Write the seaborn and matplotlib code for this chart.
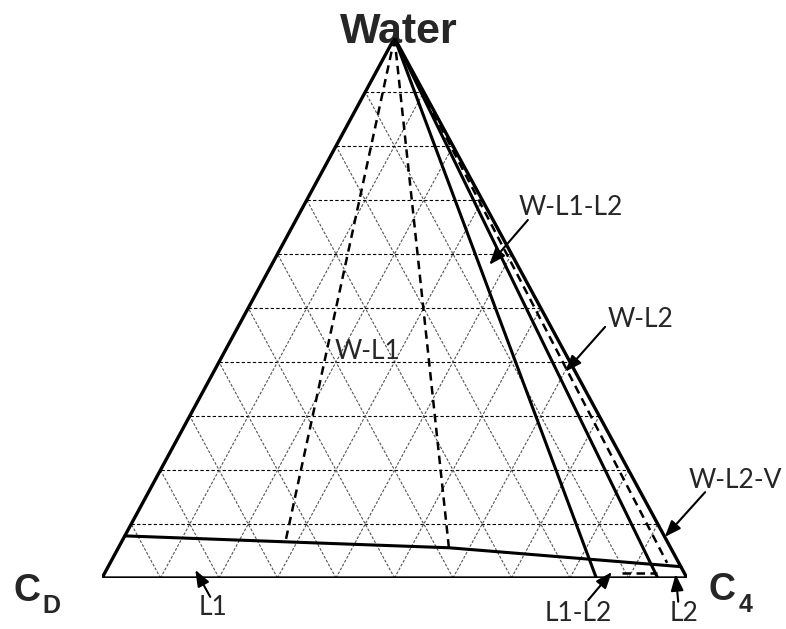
import matplotlib
matplotlib.use("Agg")
import matplotlib.pyplot as plt
import numpy as np
import pandas as pd
import seaborn as sns

sns.set_style("white")
plt.rcParams["font.family"] = ["Lato", "DejaVu Sans"]

# Phase boundaries of the Water / CD / C4 system.
# Each boundary is listed as C4 mass fraction and water mass fraction; CD is the remainder.
wl1_left_c4 = [0.0, 0.280]
wl1_left_w = [1.0, 0.067]
wl1_right_c4 = [0.0, 0.565]
wl1_right_w = [1.0, 0.056]
l1_edge_c4 = [0.0, 0.280, 0.565, 0.979]
l1_edge_w = [0.078, 0.067, 0.056, 0.021]
wl1l2_edge_c4 = [0.0, 0.845]
wl1l2_edge_w = [1.0, 0.0]
wl2_edge_c4 = [0.0, 0.950]
wl2_edge_w = [1.0, 0.0]
wl2v_edge_c4 = [0.0, 0.952]
wl2v_edge_w = [1.0, 0.028]
l1l2_tie_c4 = [0.884, 0.944]
l1l2_tie_w = [0.009, 0.009]

grid_levels = [0.1, 0.2, 0.3, 0.4, 0.5, 0.6, 0.7, 0.8, 0.9]

region_names = ["W-L1-L2", "W-L2", "W-L2-V", "L1", "L1-L2", "L2"]
region_c4 = [0.372, 0.601, 0.924, 0.152, 0.866, 0.977]
region_w = [0.580, 0.382, 0.076, 0.015, 0.011, 0.007]


def to_xy(c4, w):
    c4 = np.asarray(c4, dtype=float)
    w = np.asarray(w, dtype=float)
    return c4 + w / 2.0, w


fig = plt.figure(figsize=(7.86, 6.29), dpi=100)
ax = fig.add_axes([102 / 786, 51 / 629, 585 / 786, 540 / 629])
ax.set_xlim(0, 1)
ax.set_ylim(0, 1)
ax.axis("off")

# triangular grid at 10 % steps
for g in grid_levels:
    # constant water: horizontal
    x, y = to_xy([0, 1 - g], [g, g])
    ax.plot(x, y, color="black", lw=0.8, ls=(0, (3, 2)), zorder=1)
    # constant C4: parallel to the CD-Water edge
    x, y = to_xy([g, g], [0, 1 - g])
    ax.plot(x, y, color="#555555", lw=0.8, ls=(0, (2.5, 1.5)), zorder=1)
    # constant CD: parallel to the C4-Water edge
    x, y = to_xy([1 - g, 0], [0, 1 - g])
    ax.plot(x, y, color="#555555", lw=0.8, ls=(0, (2.5, 1.5)), zorder=1)

# outer triangle
x, y = to_xy([0, 1, 0, 0], [0, 0, 1, 0])
ax.plot(x, y, color="black", lw=2.4, solid_joinstyle="miter", zorder=3)


def boundary(c4, w, dashed=False, lw=2.0):
    x, y = to_xy(c4, w)
    df = pd.DataFrame({"x": x, "y": y})
    line = sns.lineplot(data=df, x="x", y="y", ax=ax, color="black", lw=lw,
                        sort=False, estimator=None, legend=False, zorder=4)
    if dashed:
        line.lines[-1].set_dashes((3.4, 2.2))


boundary(wl1_left_c4, wl1_left_w, dashed=True, lw=1.8)
boundary(wl1_right_c4, wl1_right_w, dashed=True, lw=1.8)
boundary(l1_edge_c4, l1_edge_w, lw=2.2)
boundary(wl1l2_edge_c4, wl1l2_edge_w, lw=2.2)
boundary(wl2_edge_c4, wl2_edge_w, lw=2.2)
boundary(wl2v_edge_c4, wl2v_edge_w, dashed=True, lw=1.8)
boundary(l1l2_tie_c4, l1l2_tie_w, dashed=True, lw=1.8)
ax.set_xlabel("")
ax.set_ylabel("")

# vertex labels
ax.text(0.508, 0.991, "Water", fontsize=31, fontweight="bold",
        family="Liberation Sans", ha="center", va="baseline")
ax.text(-0.152, -0.043, "C", fontsize=27, fontweight="bold",
        family="Liberation Sans", ha="left", va="baseline")
ax.text(-0.102, -0.065, "D", fontsize=18, fontweight="bold",
        family="Liberation Sans", ha="left", va="baseline")
ax.text(1.036, -0.041, "C", fontsize=27, fontweight="bold",
        family="Liberation Sans", ha="left", va="baseline")
ax.text(1.088, -0.063, "4", fontsize=18, fontweight="bold",
        family="Liberation Sans", ha="left", va="baseline")

# region labels
ax.text(0.453, 0.420, "W-L1", fontsize=19, ha="center", va="center", zorder=5)

label_xy = [(0.802, 0.687), (0.920, 0.478), (1.083, 0.180),
            (0.190, -0.054), (0.814, -0.065), (0.995, -0.065)]
tail_xy = [(0.728, 0.663), (0.860, 0.465), (1.031, 0.159),
           (0.185, -0.035), (0.831, -0.041), (0.985, -0.044)]
for name, c4, w, lxy, txy in zip(region_names, region_c4, region_w, label_xy, tail_xy):
    ax.text(lxy[0], lxy[1], name, fontsize=19, ha="center", va="center")
    hx, hy = to_xy(c4, w)
    ax.annotate("", xy=(hx, hy), xytext=txy,
                arrowprops=dict(arrowstyle="-|>,head_length=0.7,head_width=0.27",
                                color="black", lw=1.5,
                                mutation_scale=14, shrinkA=0, shrinkB=0),
                annotation_clip=False, zorder=6)

fig.savefig("out.png", dpi=100)
